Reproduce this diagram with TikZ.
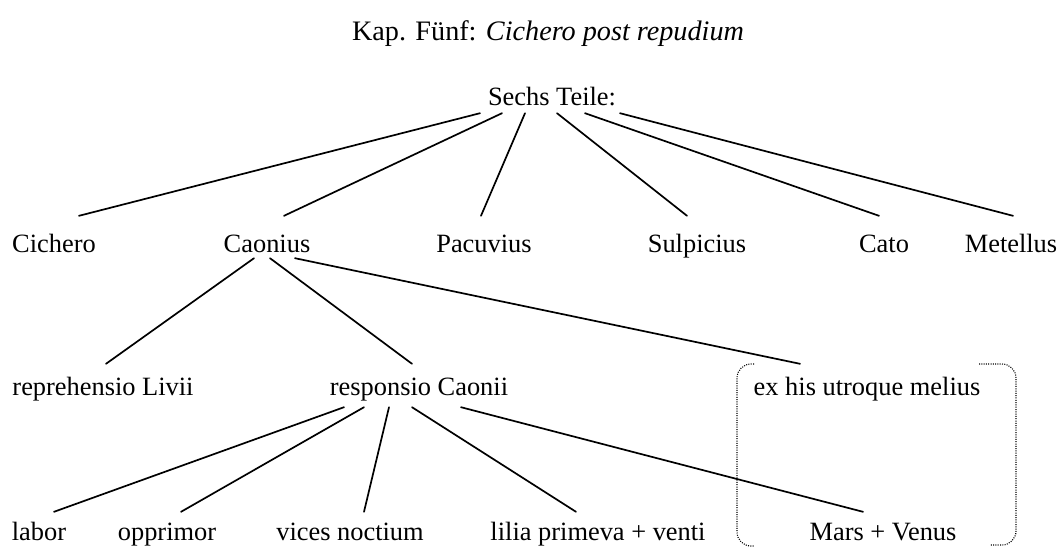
\documentclass[tikz,border=0pt]{standalone}
\usepackage{fontspec}
\setmainfont{Liberation Serif}
\usetikzlibrary{calc}
\begin{document}
\begin{tikzpicture}[x=1pt,y=-1pt,
  lbl/.style={inner sep=0pt, text height=19pt, text depth=6pt, anchor=base, font=\fontsize{26.4}{30}\selectfont},
  ttl/.style={inner sep=0pt, anchor=base, font=\fontsize{28.2}{32}\selectfont},
  edge/.style={line width=1.7pt, line cap=round},
  grp/.style={line width=1.1pt, dash pattern=on 1pt off 1.3pt, rounded corners=14pt}]
\useasboundingbox (0,0) rectangle (1060,547);
% title
\node[ttl] (title) at (548,40) {Kap. Fünf: \textit{Cichero post repudium}};
% root
\node[lbl] (top) at (552,105) {Sechs Teile:};
% row 2
\node[lbl] (cichero) at (54,252) {Cichero};
\node[lbl] (caonius) at (267,252) {Caonius};
\node[lbl] (pacuvius) at (484,252) {Pacuvius};
\node[lbl] (sulpicius) at (697,252) {Sulpicius};
\node[lbl] (cato) at (884,252) {Cato};
\node[lbl] (metellus) at (1011,252) {Metellus};
% row 3
\node[lbl] (repr) at (103,395) {reprehensio Livii};
\node[lbl] (resp) at (419,395) {responsio Caonii};
\node[lbl] (exhis) at (867,395) {ex his utroque melius};
% row 4
\node[lbl] (labor) at (39,540) {labor};
\node[lbl] (oppr) at (167,540) {opprimor};
\node[lbl] (vices) at (350,540) {vices noctium};
\node[lbl] (lilia) at (598,540) {lilia primeva + venti};
\node[lbl] (mars) at (883,540) {Mars + Venus};
% edges from root
\draw[edge] ($(top.south)+(-72,2)$) -- ($(cichero.north)+(25,-17)$);
\draw[edge] ($(top.south)+(-50,2)$) -- ($(caonius.north)+(17,-17)$);
\draw[edge] ($(top.south)+(-27,2)$) -- ($(pacuvius.north)+(-3,-17)$);
\draw[edge] ($(top.south)+(5,2)$) -- ($(sulpicius.north)+(-10,-17)$);
\draw[edge] ($(top.south)+(33,2)$) -- ($(cato.north)+(-5,-17)$);
\draw[edge] ($(top.south)+(68,2)$) -- ($(metellus.north)+(2,-17)$);
% edges from Caonius
\draw[edge] ($(caonius.south)+(-13,0)$) -- ($(repr.north)+(3,-12)$);
\draw[edge] ($(caonius.south)+(3,0)$) -- ($(resp.north)+(-7,-12)$);
\draw[edge] ($(caonius.south)+(28,0)$) -- ($(exhis.north)+(-67,-12)$);
% edges from responsio
\draw[edge] ($(resp.south)+(-75,6)$) -- ($(labor.north)+(15,-9)$);
\draw[edge] ($(resp.south)+(-55,6)$) -- ($(oppr.north)+(14,-9)$);
\draw[edge] ($(resp.south)+(-30,6)$) -- ($(vices.north)+(14,-9)$);
\draw[edge] ($(resp.south)+(-7,6)$) -- ($(lilia.north)+(-22,-9)$);
\draw[edge] ($(resp.south)+(42,6)$) -- ($(mars.north)+(-20,-9)$);
% dotted grouping brackets
\draw[grp] (754,364) -| (737,546) -- (754,546);
\draw[grp] (979,364) -| (1016,545) -- (990,545);
\end{tikzpicture}
\end{document}
